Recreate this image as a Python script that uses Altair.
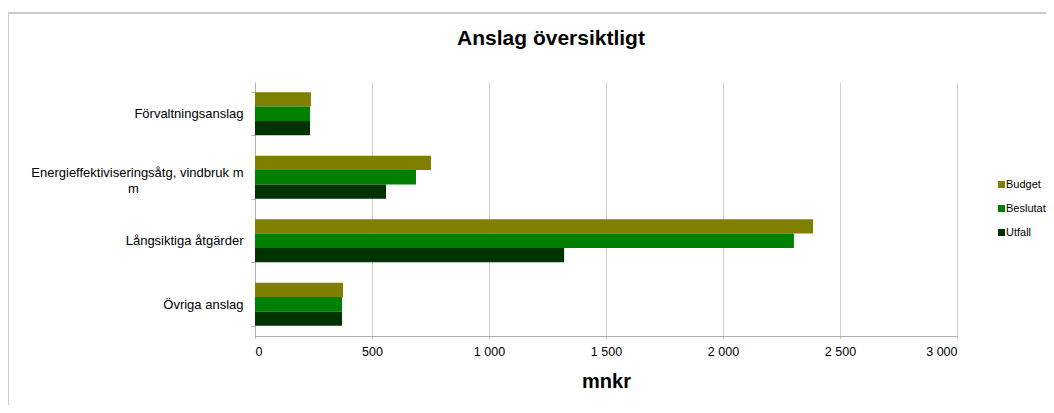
import altair as alt
import pandas as pd

categories = ["Förvaltningsanslag", "Energieffektiviseringsåtg, vindbruk m m",
              "Långsiktiga åtgärder", "Övriga anslag"]
series = ["Budget", "Beslutat", "Utfall"]
budget = [239, 752, 2385, 376]
beslutat = [235, 688, 2303, 372]
utfall = [235, 560, 1321, 372]
colors = ["#808000", "#008000", "#003300"]
x_ticks = [0, 500, 1000, 1500, 2000, 2500, 3000]

FONT = "Liberation Sans"

rows = []
for i, c in enumerate(categories):
    for s, vals in zip(series, [budget, beslutat, utfall]):
        rows.append({"kategori": c, "serie": s, "mnkr": vals[i]})
df = pd.DataFrame(rows)

long_cat = categories[1]
nb = "\u00a0" * 29 + "\u200b"
label_expr = ("datum.value == '" + long_cat + "' ? "
              "['Energieffektiviseringsåtg, vindbruk m', 'm" + nb + "'] : datum.value")

bars = alt.Chart(df).mark_bar().encode(
    y=alt.Y("kategori:N", sort=categories, title=None,
            scale=alt.Scale(paddingInner=0.32, paddingOuter=0.16),
            axis=alt.Axis(tickBand="extent", grid=False, labelExpr=label_expr,
                          labelFont=FONT, labelFontSize=13, labelColor="#000000",
                          labelPadding=8, tickSize=4, tickColor="#b0b0b0",
                          domainColor="#b0b0b0", labelLineHeight=16, labelLimit=400,
                          labelOffset={"condition": {"test": "datum.value == '" + long_cat + "'",
                                                     "value": -5}, "value": 0})),
    yOffset=alt.YOffset("serie:N", sort=series, scale=alt.Scale(paddingInner=0, paddingOuter=0)),
    x=alt.X("mnkr:Q", scale=alt.Scale(domain=[0, 3000], nice=False),
            axis=alt.Axis(values=x_ticks, title="mnkr",
                          labelExpr="replace(format(datum.value, ','), ',', '\u00a0')",
                          labelFont=FONT, labelFontSize=12.5, labelColor="#000000",
                          labelPadding=7, tickSize=2, tickColor="#b0b0b0",
                          domainColor="#b0b0b0", gridColor="#d0d0d0",
                          titleFont=FONT, titleFontSize=20, titleFontWeight="bold",
                          titleColor="#000000", titlePadding=14)),
    color=alt.Color("serie:N", scale=alt.Scale(domain=series, range=colors),
                    legend=alt.Legend(title=None, orient="none", legendX=741, legendY=97,
                                      symbolType="square", symbolSize=49,
                                      symbolStrokeWidth=0, labelFont=FONT,
                                      labelFontSize=11, labelColor="#000000",
                                      rowPadding=12, padding=0,
                                      labelOffset={"expr": "-1"},
                                      labelLimit=200)),
)

border = alt.Chart(pd.DataFrame({"a": [0]})).mark_rect(
    fill="transparent", stroke="#cccccc", strokeWidth=2
).encode(x=alt.value(-247), x2=alt.value(830), y=alt.value(-69), y2=alt.value(360))

chart = alt.layer(border, bars).properties(
    width=702, height=254,
    title=alt.TitleParams("Anslag översiktligt", font=FONT, fontSize=21,
                          fontWeight="bold", color="#000000", anchor="middle",
                          dx=-55, offset=-54, baseline="alphabetic"),
    autosize=alt.AutoSizeParams(type="none"),
    padding={"left": 247, "top": 74, "right": 89, "bottom": 69},
).configure_view(stroke=None)

chart.save("out.html", embed_options={"renderer": "svg", "actions": False})
